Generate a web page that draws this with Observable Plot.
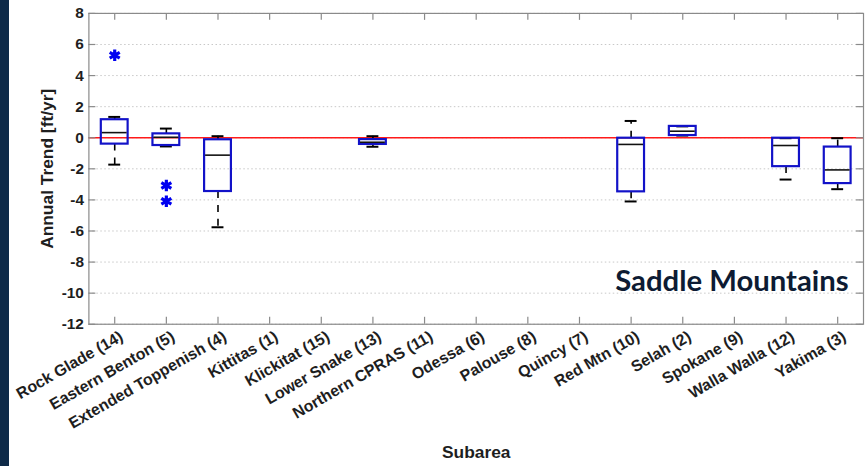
<!DOCTYPE html>
<html>
<head>
<meta charset="utf-8">
<script src="https://cdn.jsdelivr.net/npm/d3@7"></script>
<script src="https://cdn.jsdelivr.net/npm/@observablehq/plot@0.6"></script>
<style>
  html, body { margin: 0; padding: 0; background: #fff; overflow: hidden; width: 866px; height: 466px; }
  #wrap { position: relative; width: 866px; height: 466px; overflow: hidden; }
  #stripe { position: absolute; left: 0; top: 0; width: 9px; height: 466px; background: #0e2a48; z-index: 2; }
  #chart { position: absolute; left: 0; top: 0; }
</style>
</head>
<body>
<div id="wrap"><div id="stripe"></div><div id="chart"></div></div>
<script>
const categories = ["Rock Glade (14)", "Eastern Benton (5)", "Extended Toppenish (4)", "Kittitas (1)", "Klickitat (15)", "Lower Snake (13)", "Northern CPRAS (11)", "Odessa (6)", "Palouse (8)", "Quincy (7)", "Red Mtn (10)", "Selah (2)", "Spokane (9)", "Walla Walla (12)", "Yakima (3)"];
const boxCategories = ["Rock Glade (14)", "Eastern Benton (5)", "Extended Toppenish (4)", "Lower Snake (13)", "Red Mtn (10)", "Selah (2)", "Walla Walla (12)", "Yakima (3)"];
const whiskerLow  = [-1.73, -0.56, -5.76, -0.58, -4.10, 0.14, -2.69, -3.31];
const q1          = [-0.41, -0.50, -3.46, -0.43, -3.48, 0.14, -1.86, -2.95];
const median      = [ 0.33,  0.03, -1.12, -0.29, -0.43, 0.42, -0.50, -2.07];
const q3          = [ 1.16,  0.25, -0.13, -0.12, -0.03, 0.73, -0.03, -0.60];
const whiskerHigh = [ 1.34,  0.59,  0.10,  0.10,  1.08, 0.73, -0.03, -0.03];
const outlierCategories = ["Rock Glade (14)", "Eastern Benton (5)", "Eastern Benton (5)"];
const outlierValues = [5.31, -3.07, -4.08];
const yTicks = [-12, -10, -8, -6, -4, -2, 0, 2, 4, 6, 8];
const yLabel = "Annual Trend [ft/yr]";
const xLabel = "Subarea";
const annotation = "Saddle Mountains";

const boxes = boxCategories.map((c, i) => ({cat: c, lo: whiskerLow[i], q1: q1[i], med: median[i], q3: q3[i], hi: whiskerHigh[i]}));
const outliers = outlierCategories.map((c, i) => ({cat: c, value: outlierValues[i]}));

const W = 872, H = 466, mL = 89, mR = 3, mT = 13, mB = 140;
const frameW = W - mL - mR, frameH = H - mT - mB;
const BLUE = "#1212c8";
const TICK = 7;

const chart = Plot.plot({
  width: W, height: H,
  marginLeft: mL, marginRight: mR, marginTop: mT, marginBottom: mB,
  style: {fontFamily: "'Liberation Sans', Arial, Helvetica, sans-serif", background: "white", overflow: "visible"},
  x: {type: "band", domain: categories, padding: 0},
  y: {domain: [-12, 8]},
  marks: [
    Plot.gridY(yTicks, {stroke: "#c8c8c8", strokeOpacity: 1, strokeDasharray: "1.5,2.5"}),
    Plot.ruleY([0], {stroke: "#ff1a1a", strokeWidth: 1.3}),
    // whiskers (dashed)
    Plot.ruleX(boxes, {x: "cat", y1: "q3", y2: "hi", stroke: "black", strokeWidth: 1.6, strokeDasharray: "7,7"}),
    Plot.ruleX(boxes, {x: "cat", y1: "q1", y2: "lo", stroke: "black", strokeWidth: 1.6, strokeDasharray: "7,7"}),
    // caps
    Plot.tickY(boxes, {x: "cat", y: "hi", stroke: "black", strokeWidth: 2, insetLeft: 20, insetRight: 20}),
    Plot.tickY(boxes, {x: "cat", y: "lo", stroke: "black", strokeWidth: 2, insetLeft: 20, insetRight: 20}),
    // boxes
    Plot.barY(boxes, {x: "cat", y1: "q1", y2: "q3", fill: "none", stroke: BLUE, strokeWidth: 2.2, insetLeft: 12.5, insetRight: 12.5}),
    // medians
    Plot.tickY(boxes, {x: "cat", y: "med", stroke: "#111", strokeWidth: 1.6, insetLeft: 13.5, insetRight: 13.5}),
    // outliers
    Plot.dot(outliers, {x: "cat", y: "value", symbol: "asterisk", r: 5.5, stroke: "#0000f0", strokeWidth: 3.2}),
    // frame and inward ticks
    Plot.frame({stroke: "#8a8a8a", strokeWidth: 1.2}),
    Plot.tickX(categories, {x: d => d, stroke: "#8a8a8a", strokeWidth: 1.2, insetTop: frameH - TICK}),
    Plot.tickX(categories, {x: d => d, stroke: "#8a8a8a", strokeWidth: 1.2, insetBottom: frameH - TICK}),
    Plot.tickY(yTicks, {y: d => d, stroke: "#8a8a8a", strokeWidth: 1.2, insetRight: frameW - TICK}),
    Plot.tickY(yTicks, {y: d => d, stroke: "#8a8a8a", strokeWidth: 1.2, insetLeft: frameW - TICK}),
    // axes
    Plot.axisY(yTicks, {tickSize: 0, tickPadding: 5, label: null, fontSize: 15.5, fontWeight: "bold", fill: "#1e1e1e", tickFormat: d => String(d)}),
    Plot.axisX({tickSize: 0, tickPadding: 11, tickRotate: -30, label: null, fontSize: 16, fontWeight: "bold", fill: "#1e1e1e", dx: 7}),
    // axis titles
    Plot.text([yLabel], {text: d => d, frameAnchor: "left", rotate: -90, dx: -42, fontSize: 17.5, fontWeight: "bold", fill: "#1e1e1e", textAnchor: "middle"}),
    Plot.text([xLabel], {text: d => d, frameAnchor: "bottom", dy: 129, fontSize: 17.5, fontWeight: "bold", fill: "#1e1e1e", lineAnchor: "middle"}),
    Plot.text([annotation], {text: d => d, frameAnchor: "bottom-right", textAnchor: "end", lineAnchor: "bottom", dx: -15, dy: -33, fontSize: 29.5, fontWeight: "bold", fill: "#0d1b33", fontFamily: "Lato, 'Open Sans', sans-serif"})
  ]
});
document.getElementById("chart").appendChild(chart);
</script>
</body>
</html>
